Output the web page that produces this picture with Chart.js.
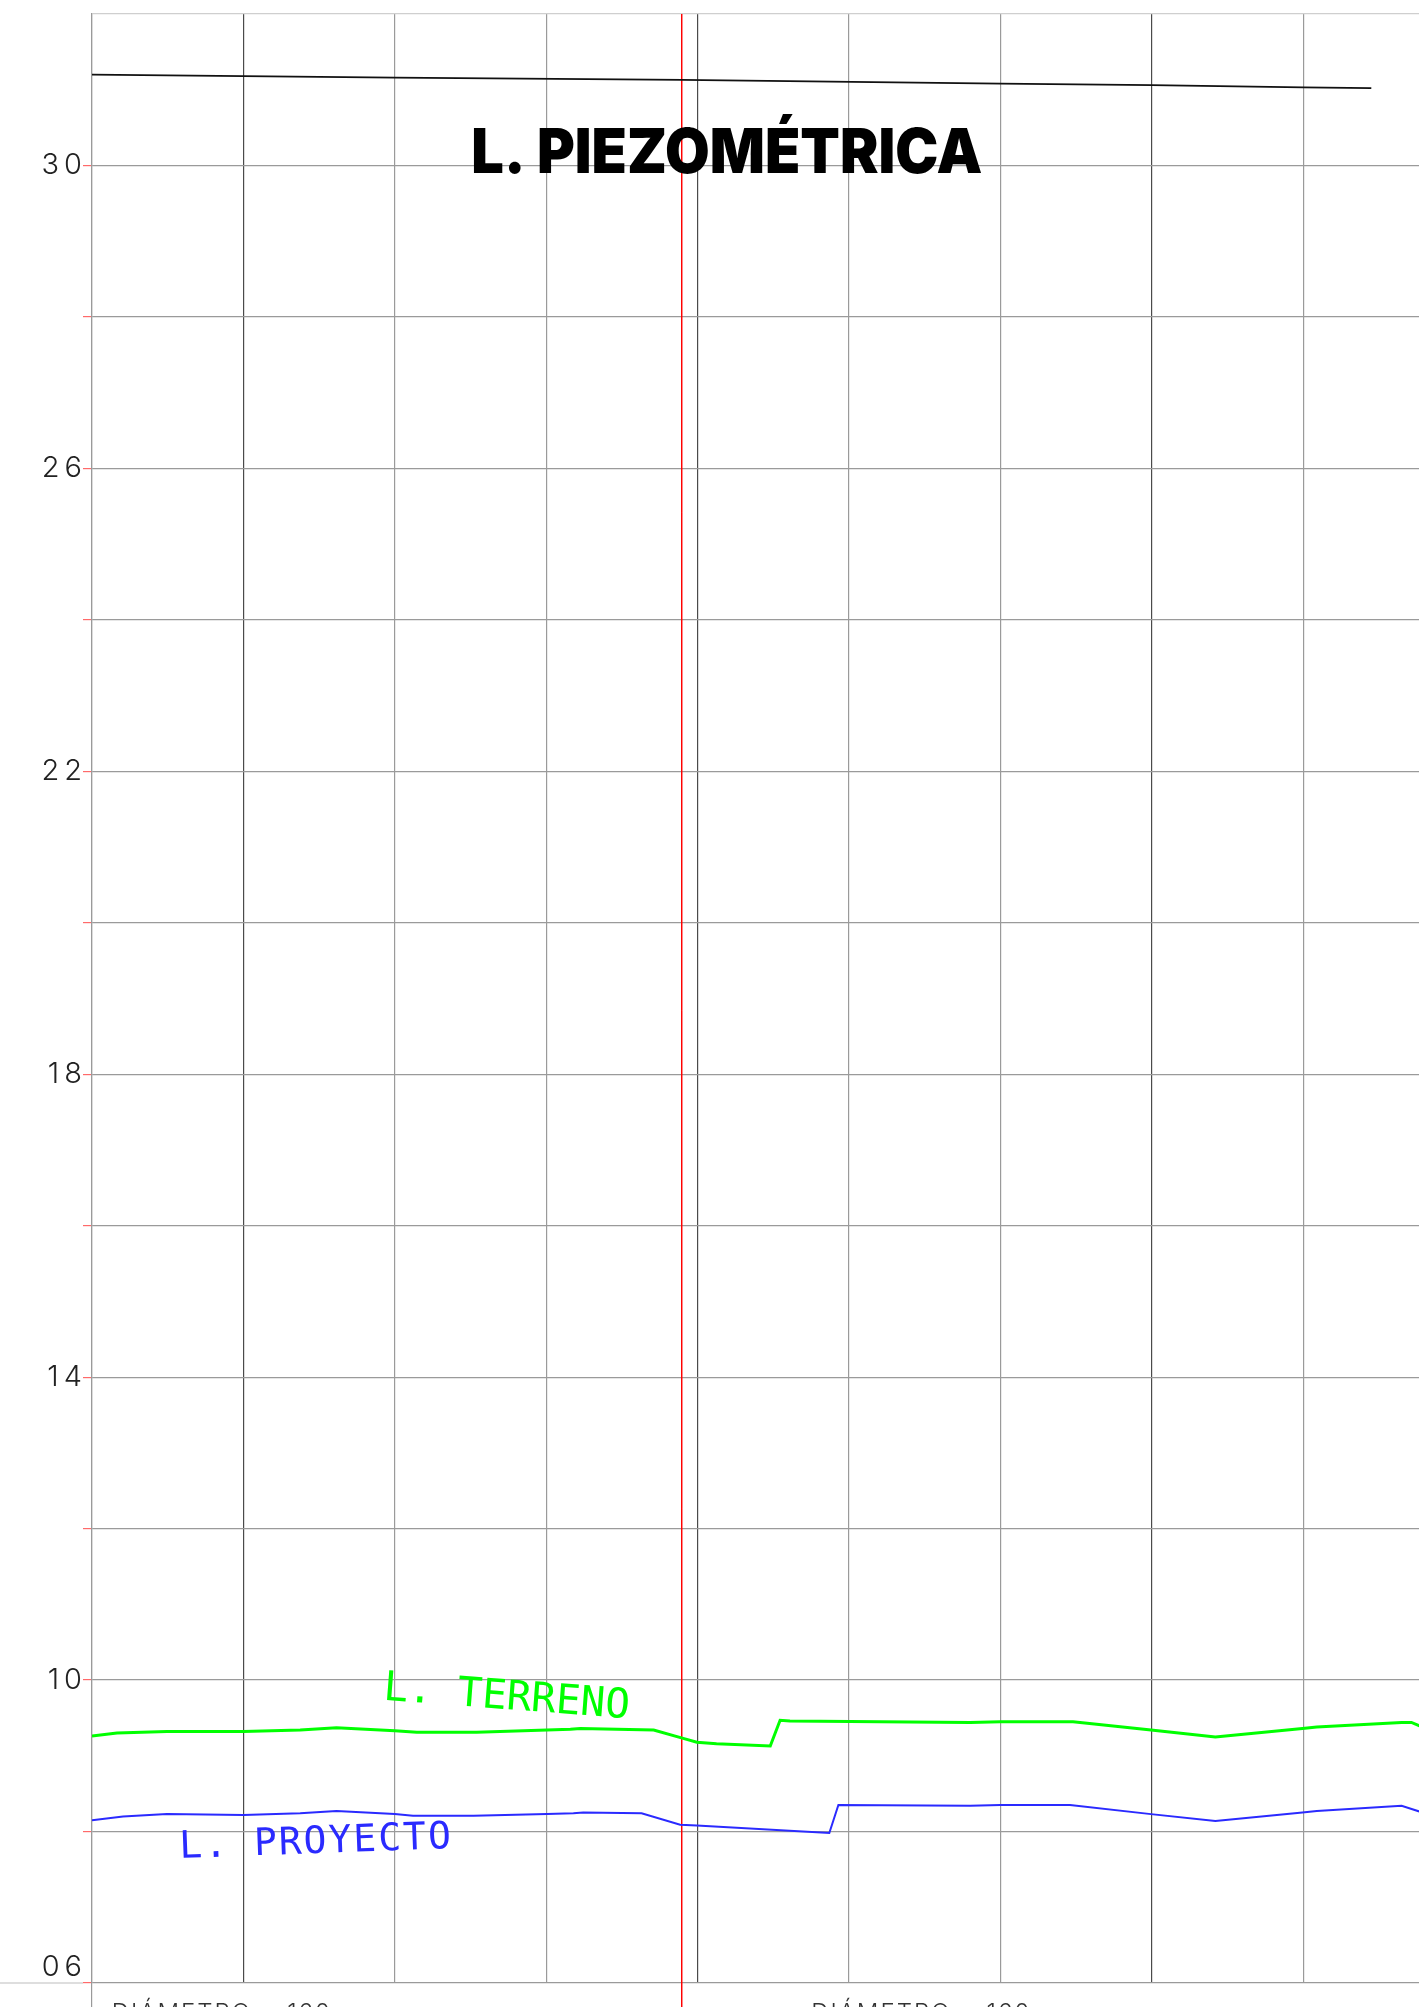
<!DOCTYPE html>
<html>
<head>
<meta charset="utf-8">
<title>Perfil longitudinal</title>
<script src="https://cdn.jsdelivr.net/npm/chart.js@4.4.1/dist/chart.umd.min.js"></script>
<style>
  html, body { margin: 0; padding: 0; background: #fff; overflow: hidden; }
  #wrap { width: 1419px; height: 2007px; position: relative; }
</style>
</head>
<body>
<div id="wrap"><canvas id="perfil"></canvas></div>
<script>
const terrenoX = [0, 3.3, 9.9, 20, 27.5, 32.3, 40, 42.9, 50.8, 60.1, 63.2, 64.5, 74.2, 78.1, 79.9, 82.5, 89.6, 90.9, 92.2, 116, 120, 129.6, 139.9, 148.4, 159.9, 161.8, 173, 174.3, 175.5];
const terrenoY = [9.26, 9.30, 9.32, 9.32, 9.34, 9.37, 9.33, 9.31, 9.31, 9.34, 9.35, 9.36, 9.34, 9.23, 9.18, 9.16, 9.13, 9.47, 9.46, 9.44, 9.45, 9.45, 9.34, 9.25, 9.36, 9.38, 9.44, 9.44, 9.39];

const proyectoX = [0, 4.1, 9.9, 20, 27.5, 32.3, 40, 42.4, 50.4, 60.1, 63.6, 64.9, 72.6, 77.7, 79.9, 97.4, 98.6, 116, 120, 129.2, 139.9, 148.4, 159.9, 161.8, 173, 175.5];
const proyectoY = [8.15, 8.20, 8.23, 8.22, 8.24, 8.27, 8.23, 8.21, 8.21, 8.23, 8.24, 8.25, 8.24, 8.09, 8.08, 7.98, 8.35, 8.34, 8.35, 8.35, 8.23, 8.14, 8.25, 8.27, 8.34, 8.26];

const piezoX = [0, 20, 40, 78, 120, 140, 160, 169];
const piezoY = [31.20, 31.18, 31.16, 31.13, 31.08, 31.06, 31.03, 31.02];

// eje rojo (cambio de hoja)
const ejeX = [77.9, 77.9];
const ejeY = [32, 5.68];

const yTickValues = [30, 26, 22, 18, 14, 10, 6];
const yTickLabels = ['30', '26', '22', '18', '14', '10', '06'];
const xDarkLines = [20, 80, 140];

const toPts = (xs, ys) => xs.map((v, i) => ({ x: v, y: ys[i] }));

const labelFont = '300 29px Inter, "Open Sans", sans-serif';

// rotulos sobre el perfil
const rotulos = {
  id: 'rotulos',
  beforeDraw(chart) {
    chart.ctx.letterSpacing = '5px';
  },
  afterDraw(chart) {
    const { ctx, scales: { x, y } } = chart;
    ctx.save();

    // prolongacion de la linea inferior hacia la izquierda
    const yb = y.getPixelForValue(6);
    ctx.strokeStyle = '#bdbdbd';
    ctx.lineWidth = 1;
    ctx.beginPath();
    ctx.moveTo(0, yb);
    ctx.lineTo(y.right - 9, yb);
    ctx.stroke();

    // etiqueta inferior del eje
    ctx.letterSpacing = '5px';
    ctx.font = labelFont;
    ctx.fillStyle = '#222';
    ctx.textAlign = 'right';
    ctx.textBaseline = 'middle';
    ctx.fillText(yTickLabels[6], y.right - 5, yb - 16);

    // L. PIEZOMETRICA
    ctx.letterSpacing = '0px';
    ctx.font = '900 62px Inter, "DejaVu Sans", sans-serif';
    ctx.fillStyle = '#000';
    ctx.textAlign = 'left';
    ctx.textBaseline = 'alphabetic';
    const t = 'L. PIEZOMÉTRICA';
    const w = ctx.measureText(t).width;
    ctx.save();
    ctx.translate(x.getPixelForValue(50.1), y.getPixelForValue(29.9));
    ctx.scale(511 / w, 1);
    ctx.fillText(t, 0, 0);
    ctx.restore();

    // L. TERRENO
    ctx.save();
    ctx.translate(x.getPixelForValue(38.4), y.getPixelForValue(9.74));
    ctx.rotate(4.3 * Math.PI / 180);
    ctx.font = '41px "DejaVu Sans Mono", monospace';
    ctx.letterSpacing = '0px';
    ctx.fillStyle = '#00ff00';
    ctx.fillText('L. TERRENO', 0, 0);
    ctx.restore();

    // L. PROYECTO
    ctx.save();
    ctx.translate(x.getPixelForValue(11.6), y.getPixelForValue(7.65));
    ctx.rotate(-2.1 * Math.PI / 180);
    ctx.font = '38px "DejaVu Sans Mono", monospace';
    ctx.letterSpacing = '2px';
    ctx.fillStyle = '#2a2aff';
    ctx.fillText('L. PROYECTO', 0, 0);
    ctx.restore();

    // cajetin inferior (cortado por el borde)
    ctx.font = '300 24px Inter, "Open Sans", sans-serif';
    ctx.letterSpacing = '2px';
    ctx.fillStyle = '#333';
    ctx.fillText('DIÁMETRO = 160', x.getPixelForValue(2.6), y.getPixelForValue(5.5));
    ctx.fillText('DIÁMETRO = 160', x.getPixelForValue(95), y.getPixelForValue(5.5));

    ctx.restore();
    ctx.letterSpacing = '0px';
  }
};

const ctx = document.getElementById('perfil').getContext('2d');
const chart = new Chart(ctx, {
  type: 'line',
  data: {
    datasets: [
      {
        label: 'L. TERRENO',
        data: toPts(terrenoX, terrenoY),
        borderColor: '#00ff00',
        borderWidth: 3,
        pointRadius: 0,
        tension: 0
      },
      {
        label: 'L. PROYECTO',
        data: toPts(proyectoX, proyectoY),
        borderColor: '#2a2aff',
        borderWidth: 2,
        pointRadius: 0,
        tension: 0
      },
      {
        label: 'L. PIEZOMÉTRICA',
        data: toPts(piezoX, piezoY),
        borderColor: '#111',
        borderWidth: 1.8,
        pointRadius: 0,
        tension: 0
      },
      {
        label: 'eje',
        data: toPts(ejeX, ejeY),
        borderColor: '#ff0000',
        borderWidth: 1,
        pointRadius: 0,
        clip: false
      }
    ]
  },
  options: {
    responsive: true,
    maintainAspectRatio: false,
    animation: false,
    events: [],
    layout: { padding: { top: 14, right: 0, bottom: 0, left: 0 } },
    plugins: {
      legend: { display: false },
      tooltip: { enabled: false },
      title: { display: false }
    },
    scales: {
      x: {
        type: 'linear',
        min: 0,
        max: 175.3,
        ticks: { display: false, stepSize: 20 },
        afterBuildTicks: s => { s.ticks = s.ticks.filter(t => t.value % 20 === 0); },
        afterFit: s => { s.height = 24; s.paddingLeft = 0; s.paddingRight = 0; },
        border: { display: false },
        grid: {
          color: c => xDarkLines.includes(c.tick.value) ? '#4a4a4a' : '#9a9a9a',
          tickColor: c => c.tick.value === 0 ? '#9a9a9a' : 'rgba(0,0,0,0)',
          tickLength: 24,
          lineWidth: 1.2
        }
      },
      y: {
        min: 6,
        max: 32,
        ticks: {
          stepSize: 2,
          padding: -4,
          color: '#222',
          font: { family: 'Inter, "Open Sans", sans-serif', size: 29, weight: 300 },
          callback: v => {
            const i = yTickValues.indexOf(v);
            return i >= 0 && v !== 6 ? yTickLabels[i] : '';
          }
        },
        afterFit: s => { s.width = 92; s.paddingTop = 0; s.paddingBottom = 0; },
        border: { display: true, color: '#9a9a9a', width: 1.2 },
        grid: {
          color: c => c.tick.value === 32 ? '#cfcfcf' : '#9a9a9a',
          tickColor: c => c.tick.value === 32 ? 'rgba(0,0,0,0)' : '#ff6a6a',
          tickLength: 9,
          lineWidth: 1.2
        }
      }
    }
  },
  plugins: [rotulos]
});
</script>
</body>
</html>
